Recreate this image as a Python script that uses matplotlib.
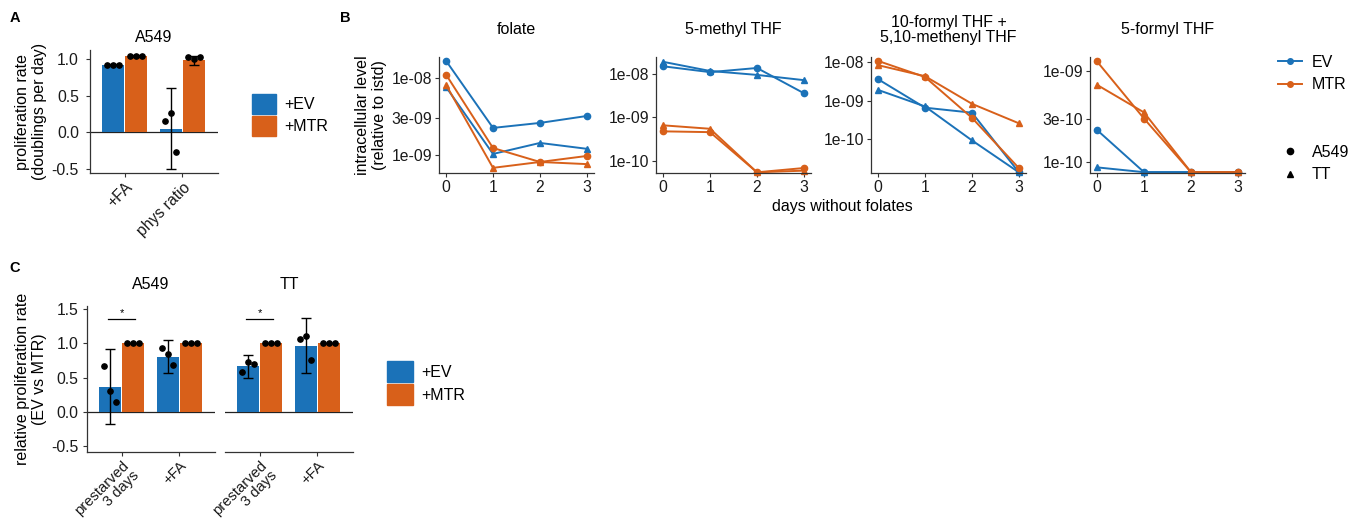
import matplotlib.pyplot as plt
from matplotlib.patches import Patch
from matplotlib.lines import Line2D
import numpy as np

plt.rcParams['font.family'] = ['Liberation Sans', 'DejaVu Sans']
plt.rcParams['font.size'] = 11

BLUE = '#1b72b8'
ORANGE = '#d8601a'
W, H = 1356, 527
FS = 11.5   # titles, labels, legends
TS = 11.3   # tick labels

# ---- panel A: proliferation rate, A549
a_groups = ['+FA', 'phys ratio']
a_ev_mean = [0.92, 0.05]
a_ev_err = [0.01, 0.55]
a_ev_pts = [[0.92, 0.92, 0.92], [0.15, 0.26, -0.26]]
a_mtr_mean = [1.04, 0.98]
a_mtr_err = [0.01, 0.065]
a_mtr_pts = [[1.04, 1.04, 1.04], [1.03, 1.0, 1.02]]

# ---- panel B: folate species over days without folates
days = [0, 1, 2, 3]
metabolites = ['folate', '5-methyl THF', '10-formyl THF +\n5,10-methenyl THF', '5-formyl THF']
ev_a549 = [
    [1.66e-8, 2.24e-9, 2.6e-9, 3.2e-9],
    [1.5e-8, 1.1e-8, 1.37e-8, 3.6e-9],
    [3.6e-9, 6.6e-10, 4.9e-10, 1.4e-11],
    [2.25e-10, 7.8e-11, 7.8e-11, 7.8e-11],
]
ev_tt = [
    [7.6e-9, 1.03e-9, 1.43e-9, 1.2e-9],
    [1.9e-8, 1.17e-8, 9.5e-9, 7.2e-9],
    [1.9e-9, 7.1e-10, 9.4e-11, 1.4e-11],
    [8.8e-11, 7.8e-11, 7.8e-11, 7.8e-11],
]
mtr_a549 = [
    [1.1e-8, 1.23e-9, 8.1e-10, 9.7e-10],
    [4.8e-10, 4.6e-10, 5.5e-11, 6.9e-11],
    [1.07e-8, 4.1e-9, 3.6e-10, 1.8e-11],
    [1.26e-9, 3.0e-10, 7.8e-11, 7.8e-11],
]
mtr_tt = [
    [8.1e-9, 6.8e-10, 8.1e-10, 7.6e-10],
    [6.6e-10, 5.5e-10, 5.5e-11, 6.0e-11],
    [8.3e-9, 4.3e-9, 8.3e-10, 2.6e-10],
    [7.0e-10, 3.5e-10, 7.8e-11, 7.8e-11],
]
b_ticks = [[1e-9, 3e-9, 1e-8], [1e-10, 1e-9, 1e-8], [1e-10, 1e-9, 1e-8], [1e-10, 3e-10, 1e-9]]
b_ticklabels = [['1e-09', '3e-09', '1e-08'], ['1e-10', '1e-09', '1e-08'],
                ['1e-10', '1e-09', '1e-08'], ['1e-10', '3e-10', '1e-09']]
b_ylims = [(5.83e-10, 1.86e-8), (5.3e-11, 2.45e-8), (1.35e-11, 1.35e-8), (7.64e-11, 1.41e-9)]

# ---- panel C: relative proliferation rate
c_lines = ['A549', 'TT']
c_groups = ['prestarved\n3 days', '+FA']
c_ev_mean = [[0.37, 0.80], [0.665, 0.965]]
c_ev_err = [[0.54, 0.24], [0.165, 0.395]]
c_ev_pts = [[[0.67, 0.31, 0.14], [0.93, 0.845, 0.68]], [[0.58, 0.72, 0.70], [1.06, 1.11, 0.75]]]
c_mtr_mean = [[1.0, 1.0], [1.0, 1.0]]
c_mtr_err = [[0.0, 0.0], [0.0, 0.0]]
c_mtr_pts = [[[1.0, 1.0, 1.0], [1.0, 1.0, 1.0]], [[1.0, 1.0, 1.0], [1.0, 1.0, 1.0]]]

fig = plt.figure(figsize=(W / 100, H / 100), dpi=100)


def ax_px(x0, y0, x1, y1):
    return fig.add_axes([x0 / W, 1 - y1 / H, (x1 - x0) / W, (y1 - y0) / H])


def style(ax, left=True, pad=2):
    for s in ['top', 'right']:
        ax.spines[s].set_visible(False)
    for s in ['left', 'bottom']:
        ax.spines[s].set_linewidth(0.9)
        ax.spines[s].set_color('#333333')
    ax.tick_params(length=3, width=0.8, color='#333333', labelsize=TS,
                   labelcolor='#1a1a1a', pad=pad)
    if not left:
        ax.spines['left'].set_visible(False)
        ax.tick_params(axis='y', left=False, labelleft=False)


jit = [-0.1, 0.0, 0.1]


def bars(ax, groups, ev_m, ev_e, ev_p, mtr_m, mtr_e, mtr_p, xsize=TS):
    x = np.arange(len(groups))
    w, off = 0.38, 0.2
    ax.axhline(0, color='#222222', lw=0.9, zorder=1)
    ax.bar(x - off, ev_m, w, color=BLUE, zorder=2)
    ax.bar(x + off, mtr_m, w, color=ORANGE, zorder=2)
    for xs, m, e, pts in [(x - off, ev_m, ev_e, ev_p), (x + off, mtr_m, mtr_e, mtr_p)]:
        ax.errorbar(xs, m, yerr=e, fmt='none', ecolor='black', elinewidth=1.0,
                    capsize=3.5, capthick=1.0, zorder=3)
        for xi, p in zip(xs, pts):
            ax.plot(xi + np.array(jit), p, 'o', color='black', ms=3.8, zorder=4)
    ax.set_xlim(-0.6, 1.62)
    ax.set_xticks(x)
    ax.set_xticklabels(groups, rotation=45, ha='right', rotation_mode='anchor',
                       multialignment='right', fontsize=xsize, linespacing=1.0)


# ---- panel A
axA = ax_px(90, 50, 218, 173)
style(axA, pad=5)
bars(axA, a_groups, a_ev_mean, a_ev_err, a_ev_pts, a_mtr_mean, a_mtr_err, a_mtr_pts)
axA.tick_params(axis='x', pad=2)
axA.set_ylim(-0.55, 1.12)
axA.set_yticks([-0.5, 0.0, 0.5, 1.0])
axA.set_yticklabels(['-0.5', '0.0', '0.5', '1.0'])
axA.set_ylabel('proliferation rate\n(doublings per day)', fontsize=FS, labelpad=3)
axA.set_title('A549', fontsize=FS, pad=6)
legA = [Patch(color=BLUE, label='+EV'), Patch(color=ORANGE, label='+MTR')]
fig.legend(handles=legA, loc='center left', bbox_to_anchor=(238 / W, 1 - 115 / H),
           frameon=False, handlelength=1.5, handleheight=1.5, labelspacing=0.15,
           handletextpad=0.5, fontsize=FS)

# ---- panel B
b_left = [439, 656, 871, 1090]
for i in range(4):
    ax = ax_px(b_left[i], 57, b_left[i] + 155, 173)
    style(ax)
    ax.set_yscale('log')
    for vals, col, mk in [(ev_a549[i], BLUE, 'o'), (ev_tt[i], BLUE, '^'),
                          (mtr_a549[i], ORANGE, 'o'), (mtr_tt[i], ORANGE, '^')]:
        ax.plot(days, vals, color=col, marker=mk, lw=1.4, ms=4.5, clip_on=False)
    ax.set_ylim(*b_ylims[i])
    ax.set_yticks(b_ticks[i])
    ax.set_yticklabels(b_ticklabels[i])
    ax.minorticks_off()
    ax.set_xlim(-0.15, 3.15)
    ax.set_xticks(days)
    ax.annotate(metabolites[i], xy=(0.5, 1), xycoords='axes fraction',
                xytext=(0, 19.5), textcoords='offset points',
                ha='center', va='center', fontsize=FS, linespacing=1.05)
    if i == 0:
        ax.set_ylabel('intracellular level\n(relative to istd)', fontsize=FS, labelpad=3)

fig.text(842 / W, 1 - 207 / H, 'days without folates', ha='center', va='center', fontsize=FS)

legB1 = [Line2D([], [], color=BLUE, marker='o', lw=1.4, ms=4, label='EV'),
         Line2D([], [], color=ORANGE, marker='o', lw=1.4, ms=4, label='MTR')]
legB2 = [Line2D([], [], color='black', marker='o', lw=0, ms=4.5, label='A549'),
         Line2D([], [], color='black', marker='^', lw=0, ms=5, label='TT')]
fig.legend(handles=legB1, loc='center left', bbox_to_anchor=(1264 / W, 1 - 73.5 / H),
           frameon=False, handlelength=1.5, labelspacing=0.5, handletextpad=0.6,
           fontsize=FS)
fig.legend(handles=legB2, loc='center left', bbox_to_anchor=(1264 / W, 1 - 163.5 / H),
           frameon=False, handlelength=1.5, labelspacing=0.5, handletextpad=0.6,
           fontsize=FS)

# ---- panel C
c_left = [87, 225]
for i in range(2):
    ax = ax_px(c_left[i], 306, c_left[i] + 128, 452)
    style(ax, left=(i == 0), pad=3)
    bars(ax, c_groups, c_ev_mean[i], c_ev_err[i], c_ev_pts[i],
         c_mtr_mean[i], c_mtr_err[i], c_mtr_pts[i], xsize=10.6)
    ax.tick_params(axis='x', pad=1.5)
    ax.set_ylim(-0.58, 1.54)
    ax.set_yticks([-0.5, 0.0, 0.5, 1.0, 1.5])
    ax.set_yticklabels(['-0.5', '0.0', '0.5', '1.0', '1.5'])
    ax.set_title(c_lines[i], fontsize=FS, pad=12)
    ax.plot([-0.24, 0.24], [1.35, 1.35], color='black', lw=0.9)
    ax.text(0, 1.37, '*', ha='center', va='bottom', fontsize=8)
    if i == 0:
        ax.set_ylabel('relative proliferation rate\n(EV vs MTR)', fontsize=FS, labelpad=3)

legC = [Patch(color=BLUE, label='+EV'), Patch(color=ORANGE, label='+MTR')]
fig.legend(handles=legC, loc='center left', bbox_to_anchor=(373 / W, 1 - 383 / H),
           frameon=False, handlelength=1.6, handleheight=1.6, labelspacing=0.15,
           handletextpad=0.5, fontsize=FS)

# ---- panel letters
for lab, x, y in [('A', 15, 18), ('B', 345, 18), ('C', 15, 268)]:
    fig.text(x / W, 1 - y / H, lab, fontsize=10.5, fontweight='bold', ha='center', va='center')

fig.savefig('out.png', dpi=100)
